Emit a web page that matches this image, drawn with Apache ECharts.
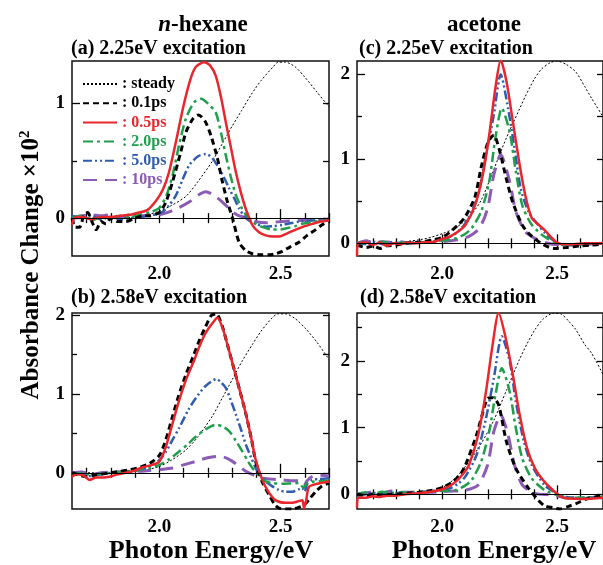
<!DOCTYPE html>
<html>
<head>
<meta charset="utf-8">
<script src="https://cdn.jsdelivr.net/npm/echarts@6/dist/echarts.min.js"></script>
<style>
  html, body { margin: 0; padding: 0; background: #fff; }
  #chart { width: 603px; height: 565px; }
</style>
</head>
<body>
<div id="chart"></div>
<script>
// tick values (eV / absorbance change)
var xTicks = [1.7, 1.8, 1.9, 2.0, 2.1, 2.2, 2.3, 2.4, 2.5, 2.6, 2.7];
var xMajor = [2.0, 2.5];
var seriesNames = ['steady', '0.1ps', '0.5ps', '2.0ps', '5.0ps', '10ps'];

// (a) n-hexane, 2.25eV excitation
var aSteady = [[1.64,0],[1.8,0],[1.9,0.01],[1.95,0.03],[2.0,0.06],[2.05,0.11],[2.11,0.19],[2.16,0.32],[2.22,0.5],[2.26,0.65],[2.30,0.8],[2.34,0.94],[2.38,1.08],[2.42,1.2],[2.47,1.32],[2.49,1.36],[2.52,1.36],[2.56,1.32],[2.60,1.23],[2.65,1.1],[2.70,0.97]];
var a01 = [[1.64,0],[1.655,-0.08],[1.671,-0.08],[1.69,0.03],[1.705,0.05],[1.72,-0.02],[1.74,-0.10],[1.76,-0.03],[1.78,-0.05],[1.80,0],[1.83,-0.03],[1.863,-0.03],[1.9,0],[1.93,0.02],[1.96,0.02],[2.0,0.05],[2.027,0.14],[2.055,0.32],[2.089,0.58],[2.11,0.75],[2.14,0.87],[2.162,0.90],[2.19,0.84],[2.213,0.72],[2.24,0.52],[2.26,0.32],[2.28,0.15],[2.302,0],[2.329,-0.21],[2.355,-0.28],[2.384,-0.31],[2.42,-0.32],[2.453,-0.32],[2.48,-0.31],[2.507,-0.29],[2.54,-0.25],[2.576,-0.21],[2.61,-0.15],[2.645,-0.10],[2.67,-0.06],[2.70,-0.02]];
var a05 = [[1.64,-0.06],[1.65,0],[1.68,0.01],[1.72,-0.01],[1.76,0.01],[1.80,0.01],[1.84,0.02],[1.88,0.03],[1.918,0.05],[1.95,0.07],[1.986,0.15],[2.015,0.25],[2.04,0.40],[2.07,0.68],[2.10,0.98],[2.13,1.22],[2.151,1.32],[2.185,1.36],[2.21,1.33],[2.233,1.24],[2.255,1.05],[2.274,0.84],[2.295,0.62],[2.316,0.40],[2.337,0.22],[2.357,0.08],[2.384,-0.06],[2.41,-0.12],[2.439,-0.15],[2.47,-0.16],[2.494,-0.16],[2.53,-0.13],[2.563,-0.10],[2.6,-0.07],[2.631,-0.05],[2.665,-0.03],[2.70,-0.02]];
var a20 = [[1.64,0],[1.68,0.02],[1.72,-0.02],[1.76,0.01],[1.80,0],[1.84,0.02],[1.88,0.01],[1.92,0.03],[1.96,0.05],[2.0,0.09],[2.03,0.2],[2.055,0.375],[2.082,0.64],[2.11,0.87],[2.144,1.01],[2.172,1.04],[2.2,1.0],[2.233,0.92],[2.255,0.74],[2.274,0.55],[2.295,0.36],[2.316,0.20],[2.337,0.1],[2.357,0.03],[2.398,-0.05],[2.43,-0.08],[2.466,-0.10],[2.5,-0.10],[2.521,-0.09],[2.56,-0.07],[2.59,-0.05],[2.64,-0.03],[2.70,-0.02]];
var a50 = [[1.64,0.02],[1.68,0],[1.72,0.02],[1.76,-0.01],[1.80,0.01],[1.84,-0.01],[1.88,0],[1.92,0.01],[1.96,0.02],[2.014,0.055],[2.04,0.11],[2.069,0.2],[2.095,0.33],[2.123,0.46],[2.16,0.54],[2.192,0.56],[2.22,0.52],[2.247,0.43],[2.268,0.35],[2.288,0.26],[2.31,0.17],[2.329,0.085],[2.35,0.02],[2.37,-0.02],[2.40,-0.05],[2.439,-0.075],[2.47,-0.07],[2.507,-0.06],[2.54,-0.045],[2.58,-0.03],[2.63,-0.02],[2.70,-0.01]];
var a10 = [[1.64,0.01],[1.68,0.02],[1.72,0.03],[1.76,0.02],[1.80,0.03],[1.84,0.01],[1.88,0.03],[1.92,0.02],[1.96,0.02],[2.0,0.03],[2.041,0.055],[2.08,0.09],[2.123,0.14],[2.16,0.2],[2.192,0.23],[2.225,0.2],[2.26,0.14],[2.28,0.1],[2.302,0.055],[2.33,0.02],[2.37,0],[2.40,-0.03],[2.439,-0.04],[2.47,-0.035],[2.507,-0.03],[2.576,-0.02],[2.64,-0.015],[2.70,-0.01]];

// (b) n-hexane, 2.58eV excitation
var bSteady = [[1.64,0],[1.8,0],[1.9,0.02],[1.95,0.04],[2.0,0.08],[2.05,0.16],[2.11,0.29],[2.16,0.46],[2.219,0.72],[2.26,0.95],[2.302,1.19],[2.34,1.41],[2.384,1.63],[2.42,1.8],[2.466,1.97],[2.49,2.02],[2.52,2.02],[2.56,1.96],[2.604,1.83],[2.65,1.66],[2.70,1.44]];
var b01 = [[1.64,0],[1.67,-0.03],[1.70,-0.05],[1.73,-0.03],[1.76,-0.02],[1.80,0],[1.84,0.02],[1.88,0.04],[1.92,0.07],[1.96,0.12],[2.0,0.22],[2.027,0.42],[2.055,0.72],[2.08,0.98],[2.11,1.25],[2.14,1.48],[2.165,1.68],[2.19,1.85],[2.215,2.0],[2.235,2.02],[2.26,1.86],[2.28,1.64],[2.302,1.39],[2.33,1.07],[2.357,0.75],[2.38,0.43],[2.398,0.14],[2.425,-0.12],[2.453,-0.28],[2.475,-0.4],[2.494,-0.45],[2.52,-0.46],[2.549,-0.46],[2.575,-0.44],[2.597,-0.41],[2.62,-0.33],[2.645,-0.24],[2.67,-0.17],[2.70,-0.13]];
var b05 = [[1.64,-0.05],[1.66,-0.02],[1.69,-0.04],[1.712,-0.09],[1.74,-0.06],[1.77,-0.06],[1.794,-0.05],[1.83,-0.02],[1.86,0],[1.89,0.02],[1.931,0.07],[1.97,0.1],[2.0,0.14],[2.027,0.33],[2.055,0.63],[2.08,0.9],[2.11,1.18],[2.14,1.4],[2.165,1.6],[2.19,1.77],[2.219,1.9],[2.24,1.97],[2.26,1.85],[2.28,1.64],[2.302,1.39],[2.33,1.07],[2.357,0.75],[2.38,0.43],[2.398,0.16],[2.425,-0.09],[2.45,-0.24],[2.48,-0.35],[2.52,-0.38],[2.549,-0.38],[2.575,-0.36],[2.59,-0.35],[2.597,-0.45],[2.606,-0.35],[2.617,-0.18],[2.65,-0.14],[2.70,-0.11]];
var b20 = [[1.64,-0.02],[1.68,0],[1.72,-0.03],[1.76,-0.01],[1.80,0],[1.84,0.01],[1.88,0.02],[1.92,0.04],[1.96,0.06],[2.0,0.10],[2.04,0.17],[2.082,0.27],[2.12,0.37],[2.151,0.46],[2.19,0.55],[2.233,0.61],[2.26,0.59],[2.288,0.53],[2.315,0.41],[2.343,0.27],[2.365,0.15],[2.384,0.06],[2.41,-0.03],[2.439,-0.11],[2.47,-0.13],[2.507,-0.14],[2.54,-0.135],[2.575,-0.13],[2.595,-0.19],[2.61,-0.13],[2.64,-0.11],[2.70,-0.1]];
var b50 = [[1.64,0],[1.68,-0.02],[1.72,-0.04],[1.76,-0.02],[1.80,0],[1.84,0.01],[1.88,0.02],[1.93,0.05],[1.972,0.10],[2.0,0.16],[2.028,0.27],[2.055,0.42],[2.082,0.57],[2.12,0.8],[2.151,0.95],[2.19,1.1],[2.236,1.19],[2.255,1.15],[2.274,1.08],[2.295,0.92],[2.316,0.74],[2.337,0.55],[2.357,0.36],[2.378,0.2],[2.398,0.06],[2.42,-0.04],[2.439,-0.11],[2.465,-0.17],[2.494,-0.22],[2.52,-0.24],[2.549,-0.24],[2.575,-0.21],[2.59,-0.19],[2.60,-0.24],[2.61,-0.14],[2.63,-0.09],[2.66,-0.08],[2.70,-0.07]];
var b10 = [[1.64,0],[1.68,0.01],[1.72,-0.02],[1.76,0],[1.80,0.01],[1.84,0.01],[1.88,0.02],[1.92,0.02],[1.96,0.03],[2.0,0.04],[2.055,0.06],[2.1,0.1],[2.151,0.145],[2.2,0.19],[2.247,0.21],[2.275,0.19],[2.302,0.145],[2.33,0.08],[2.357,0.02],[2.39,-0.03],[2.425,-0.07],[2.46,-0.08],[2.507,-0.09],[2.54,-0.1],[2.575,-0.1],[2.595,-0.17],[2.61,-0.1],[2.63,-0.05],[2.658,-0.03],[2.70,-0.04]];

// (c) acetone, 2.25eV excitation
var cSteady = [[1.63,0],[1.8,0.01],[1.896,0.04],[1.95,0.07],[2.006,0.12],[2.05,0.17],[2.088,0.24],[2.13,0.35],[2.17,0.51],[2.21,0.77],[2.253,1.07],[2.28,1.25],[2.308,1.42],[2.335,1.58],[2.362,1.74],[2.4,1.94],[2.431,2.06],[2.47,2.14],[2.5,2.16],[2.54,2.12],[2.582,2.03],[2.62,1.86],[2.65,1.72],[2.70,1.5]];
var c01 = [[1.63,-0.02],[1.67,-0.05],[1.70,-0.03],[1.73,-0.06],[1.76,-0.03],[1.80,-0.02],[1.84,0],[1.88,0.01],[1.92,0.02],[1.96,0.04],[2.0,0.07],[2.033,0.13],[2.07,0.22],[2.102,0.32],[2.143,0.55],[2.17,0.9],[2.2,1.2],[2.225,1.28],[2.25,1.1],[2.279,0.77],[2.307,0.49],[2.348,0.22],[2.376,0.12],[2.431,0],[2.486,-0.06],[2.54,-0.05],[2.6,-0.03],[2.65,-0.02],[2.70,-0.01]];
var c05 = [[1.63,-0.15],[1.635,0],[1.67,0.01],[1.70,-0.02],[1.73,0.01],[1.76,-0.03],[1.79,0],[1.82,-0.01],[1.85,0.01],[1.88,0],[1.92,0.01],[1.965,0.02],[2.0,0.05],[2.033,0.08],[2.07,0.14],[2.102,0.22],[2.143,0.45],[2.177,0.81],[2.205,1.28],[2.232,1.84],[2.255,2.17],[2.28,1.92],[2.308,1.44],[2.335,0.97],[2.362,0.57],[2.39,0.3],[2.42,0.22],[2.445,0.16],[2.472,0.08],[2.5,0.01],[2.53,-0.01],[2.57,-0.01],[2.62,0],[2.70,0]];
var c20 = [[1.63,0.01],[1.67,0],[1.70,-0.01],[1.74,0.02],[1.78,0],[1.82,0.01],[1.86,0],[1.90,0.01],[1.95,0.02],[2.0,0.03],[2.06,0.06],[2.1,0.11],[2.129,0.18],[2.17,0.375],[2.205,0.73],[2.232,1.25],[2.26,1.60],[2.294,1.32],[2.321,0.85],[2.349,0.45],[2.39,0.22],[2.445,0.08],[2.5,0],[2.56,-0.02],[2.62,-0.01],[2.70,0]];
var c50 = [[1.63,0],[1.67,-0.01],[1.70,0.02],[1.74,-0.01],[1.78,0.01],[1.82,0],[1.86,0.01],[1.90,0.01],[1.95,0.02],[2.0,0.04],[2.05,0.10],[2.085,0.18],[2.115,0.30],[2.157,0.57],[2.191,1.05],[2.225,1.52],[2.255,2.0],[2.287,1.6],[2.315,1.13],[2.342,0.65],[2.376,0.375],[2.418,0.22],[2.445,0.13],[2.472,0.06],[2.51,-0.01],[2.56,-0.02],[2.62,-0.01],[2.70,0]];
var c10 = [[1.63,0],[1.67,0.03],[1.70,0.01],[1.74,0.02],[1.78,0.01],[1.82,0.02],[1.86,0],[1.90,0.01],[1.95,0.01],[2.0,0.02],[2.06,0.04],[2.115,0.08],[2.163,0.18],[2.198,0.415],[2.225,0.81],[2.255,1.05],[2.294,0.73],[2.321,0.375],[2.362,0.14],[2.418,0.04],[2.48,-0.01],[2.55,-0.02],[2.62,-0.01],[2.70,0]];

// (d) acetone, 2.58eV excitation
var dSteady = [[1.63,0],[1.8,0],[1.896,0.01],[1.95,0.05],[2.006,0.11],[2.05,0.22],[2.088,0.36],[2.13,0.55],[2.17,0.76],[2.225,1.11],[2.28,1.56],[2.335,2.01],[2.37,2.26],[2.404,2.47],[2.44,2.63],[2.486,2.72],[2.52,2.7],[2.55,2.6],[2.582,2.47],[2.62,2.25],[2.65,2.12],[2.70,1.8]];
var d01 = [[1.63,0],[1.67,-0.02],[1.70,0],[1.74,-0.01],[1.78,0],[1.82,0.01],[1.86,0.02],[1.90,0.03],[1.965,0.065],[2.0,0.1],[2.047,0.19],[2.08,0.3],[2.102,0.44],[2.15,0.89],[2.175,1.2],[2.198,1.44],[2.22,1.45],[2.246,1.34],[2.28,0.79],[2.321,0.39],[2.376,0.09],[2.418,-0.085],[2.445,-0.17],[2.48,-0.2],[2.513,-0.22],[2.55,-0.18],[2.582,-0.14],[2.637,-0.06],[2.70,-0.02]];
var d05 = [[1.63,-0.2],[1.635,-0.05],[1.67,-0.05],[1.70,-0.03],[1.73,-0.04],[1.76,-0.02],[1.80,-0.02],[1.84,0],[1.896,0.015],[1.95,0.04],[1.992,0.065],[2.03,0.12],[2.06,0.19],[2.09,0.3],[2.117,0.44],[2.157,0.89],[2.191,1.54],[2.218,2.2],[2.246,2.72],[2.273,2.4],[2.308,1.79],[2.335,1.24],[2.37,0.69],[2.404,0.39],[2.445,0.19],[2.486,0.05],[2.52,-0.04],[2.541,-0.06],[2.61,-0.07],[2.70,-0.05]];
var d20 = [[1.63,0],[1.67,0.03],[1.70,0.01],[1.74,0.04],[1.78,0.02],[1.82,0.03],[1.86,0.02],[1.90,0.03],[1.95,0.04],[2.0,0.05],[2.06,0.065],[2.1,0.13],[2.129,0.215],[2.17,0.49],[2.205,0.94],[2.232,1.49],[2.26,1.89],[2.294,1.54],[2.321,0.99],[2.349,0.54],[2.39,0.24],[2.445,0.065],[2.5,-0.01],[2.56,-0.05],[2.62,-0.05],[2.70,-0.04]];
var d50 = [[1.63,-0.02],[1.67,0],[1.70,0.02],[1.74,0],[1.78,0.03],[1.82,0.01],[1.86,0.02],[1.90,0.03],[1.95,0.04],[2.0,0.06],[2.034,0.09],[2.07,0.16],[2.102,0.27],[2.15,0.59],[2.191,1.14],[2.225,1.74],[2.26,2.37],[2.294,2.0],[2.321,1.39],[2.356,0.79],[2.39,0.44],[2.445,0.14],[2.486,0.04],[2.54,-0.04],[2.6,-0.05],[2.70,-0.04]];
var d10 = [[1.63,0.01],[1.67,0.02],[1.70,0.04],[1.74,0.02],[1.78,0.05],[1.82,0.03],[1.86,0.03],[1.90,0.04],[1.95,0.03],[2.0,0.04],[2.05,0.05],[2.1,0.06],[2.157,0.14],[2.198,0.44],[2.225,0.94],[2.255,1.19],[2.287,0.89],[2.315,0.44],[2.349,0.14],[2.404,0.015],[2.48,-0.01],[2.55,-0.06],[2.62,-0.06],[2.70,-0.05]];

var FONT = '"Liberation Serif", "Times New Roman", serif';
var lineStyles = {
  'steady': { color: '#000000', width: 1, type: [2, 2] },
  '0.1ps': { color: '#000000', width: 3, type: [6, 4] },
  '0.5ps': { color: '#e8262b', width: 2.5, type: 'solid' },
  '2.0ps': { color: '#1f9e4b', width: 2.5, type: [10, 4, 3, 4] },
  '5.0ps': { color: '#2f5cae', width: 2.5, type: [9, 3, 2, 3, 2, 3] },
  '10ps': { color: '#8b5bb5', width: 3, type: [14, 8] }
};

var panels = [
  { left: 72, top: 61, width: 257, height: 195, xmin: 1.64, xmax: 2.70, ymin: -0.33, ymax: 1.37, yMajor: [0, 1], yMinor: [0.5], data: [aSteady, a01, a05, a20, a50, a10] },
  { left: 72, top: 313, width: 257, height: 196, xmin: 1.64, xmax: 2.70, ymin: -0.46, ymax: 2.03, yMajor: [0, 1, 2], yMinor: [0.5, 1.5], data: [bSteady, b01, b05, b20, b50, b10] },
  { left: 357, top: 61, width: 258, height: 195, xmin: 1.63, xmax: 2.70, ymin: -0.15, ymax: 2.16, yMajor: [0, 1, 2], yMinor: [0.5, 1.5], data: [cSteady, c01, c05, c20, c50, c10] },
  { left: 357, top: 313, width: 258, height: 196, xmin: 1.63, xmax: 2.70, ymin: -0.22, ymax: 2.72, yMajor: [0, 1, 2], yMinor: [0.5, 1.5, 2.5], data: [dSteady, d01, d05, d20, d50, d10] }
];

var chart = echarts.init(document.getElementById('chart'));
var grids = [], xAxes = [], yAxes = [], series = [];
var tickLine = { color: '#000', width: 1.3 };
var labelFont = { color: '#000', fontFamily: FONT, fontWeight: 'bold', fontSize: 19 };

panels.forEach(function (p, gi) {
  grids.push({ left: p.left, top: p.top, width: p.width, height: p.height, show: true, borderColor: '#111', borderWidth: 1.5, backgroundColor: 'transparent' });
  var xMinor = xTicks.filter(function (v) { return xMajor.indexOf(v) < 0; });
  var xBase = { gridIndex: gi, type: 'value', min: p.xmin, max: p.xmax, axisLine: { show: false }, splitLine: { show: false } };
  var yBase = { gridIndex: gi, type: 'value', min: p.ymin, max: p.ymax, axisLine: { show: false }, splitLine: { show: false } };
  xAxes.push(Object.assign({}, xBase, { position: 'bottom',
    axisTick: { inside: true, length: 9, customValues: xMajor, lineStyle: tickLine },
    axisLabel: Object.assign({ customValues: xMajor, margin: 9, formatter: function (v) { return v.toFixed(1); } }, labelFont) }));
  xAxes.push(Object.assign({}, xBase, { position: 'bottom',
    axisTick: { inside: true, length: 5, customValues: xMinor, lineStyle: tickLine }, axisLabel: { show: false } }));
  xAxes.push(Object.assign({}, xBase, { position: 'top',
    axisTick: { inside: true, length: 5, customValues: xTicks, lineStyle: tickLine }, axisLabel: { show: false } }));
  yAxes.push(Object.assign({}, yBase, { position: 'left',
    axisTick: { inside: true, length: 8, customValues: p.yMajor, lineStyle: tickLine },
    axisLabel: Object.assign({ customValues: p.yMajor, margin: 7, formatter: function (v) { return String(Math.round(v)); } }, labelFont) }));
  yAxes.push(Object.assign({}, yBase, { position: 'left',
    axisTick: { inside: true, length: 5, customValues: p.yMinor, lineStyle: tickLine }, axisLabel: { show: false } }));
  yAxes.push(Object.assign({}, yBase, { position: 'right',
    axisTick: { inside: true, length: 6, customValues: p.yMajor.concat(p.yMinor), lineStyle: tickLine }, axisLabel: { show: false } }));

  // draw order: steady, 10ps, 5.0ps, 2.0ps, 0.1ps, 0.5ps
  [0, 5, 4, 3, 1, 2].forEach(function (k) {
    var name = seriesNames[k];
    var s = {
      name: name, type: 'line', xAxisIndex: gi * 3, yAxisIndex: gi * 3,
      data: p.data[k], showSymbol: false, symbol: 'none', smooth: 0.25,
      lineStyle: lineStyles[name], itemStyle: { color: lineStyles[name].color },
      animation: false, silent: true
    };
    if (k === 0) {
      s.markLine = { silent: true, symbol: ['none', 'none'], label: { show: false },
        lineStyle: { color: '#000', type: 'solid', width: 1.2 }, data: [{ yAxis: 0 }], animation: false };
    }
    series.push(s);
  });
});

var legendColors = ['#000000', '#000000', '#e8262b', '#1f9e4b', '#2f5cae', '#8b5bb5'];

var option = {
  backgroundColor: '#fff',
  animation: false,
  grid: grids,
  xAxis: xAxes,
  yAxis: yAxes,
  legend: {
    orient: 'vertical', left: 82, top: 76, padding: 0,
    itemWidth: 34, itemHeight: 12, itemGap: 3.2,
    itemStyle: { opacity: 0 },
    formatter: function (n) { return ': ' + n; },
    textStyle: { fontFamily: FONT, fontWeight: 'bold', fontSize: 16 },
    data: seriesNames.map(function (n, i) { return { name: n, textStyle: { color: legendColors[i] } }; })
  },
  graphic: [
    { type: 'text', x: 203, y: 25, style: { text: '{i|n}{b|-hexane}', align: 'center', verticalAlign: 'middle', textAlign: 'center', textVerticalAlign: 'middle',
      rich: { i: { fontFamily: FONT, fontSize: 23, fontWeight: 'bold', fontStyle: 'italic', fill: '#000' }, b: { fontFamily: FONT, fontSize: 23, fontWeight: 'bold', fill: '#000' } } } },
    { type: 'text', x: 484, y: 25, style: { text: 'acetone', font: 'bold 23px ' + FONT, fill: '#000', align: 'center', verticalAlign: 'middle', textAlign: 'center', textVerticalAlign: 'middle' } },
    { type: 'text', x: 71, y: 49, style: { text: '(a) 2.25eV excitation', font: 'bold 20px ' + FONT, fill: '#000', align: 'left', verticalAlign: 'middle', textAlign: 'left', textVerticalAlign: 'middle' } },
    { type: 'text', x: 71, y: 298, style: { text: '(b) 2.58eV excitation', font: 'bold 20px ' + FONT, fill: '#000', align: 'left', verticalAlign: 'middle', textAlign: 'left', textVerticalAlign: 'middle' } },
    { type: 'text', x: 359, y: 49, style: { text: '(c) 2.25eV excitation', font: 'bold 20px ' + FONT, fill: '#000', align: 'left', verticalAlign: 'middle', textAlign: 'left', textVerticalAlign: 'middle' } },
    { type: 'text', x: 360, y: 298, style: { text: '(d) 2.58eV excitation', font: 'bold 20px ' + FONT, fill: '#000', align: 'left', verticalAlign: 'middle', textAlign: 'left', textVerticalAlign: 'middle' } },
    { type: 'text', x: 211, y: 551, style: { text: 'Photon Energy/eV', font: 'bold 26px ' + FONT, fill: '#000', align: 'center', verticalAlign: 'middle', textAlign: 'center', textVerticalAlign: 'middle' } },
    { type: 'text', x: 494, y: 551, style: { text: 'Photon Energy/eV', font: 'bold 26px ' + FONT, fill: '#000', align: 'center', verticalAlign: 'middle', textAlign: 'center', textVerticalAlign: 'middle' } },
    { type: 'text', x: 32, y: 265, rotation: Math.PI / 2, style: { text: '{a|Absorbance Change ×10}{s|2}', align: 'center', verticalAlign: 'middle', textAlign: 'center', textVerticalAlign: 'middle',
      rich: { a: { fontFamily: FONT, fontSize: 25, fontWeight: 'bold', fill: '#000', lineHeight: 28 }, s: { fontFamily: FONT, fontSize: 15, fontWeight: 'bold', fill: '#000', verticalAlign: 'top', lineHeight: 28 } } } }
  ],
  series: series
};
chart.setOption(option);
</script>
</body>
</html>
